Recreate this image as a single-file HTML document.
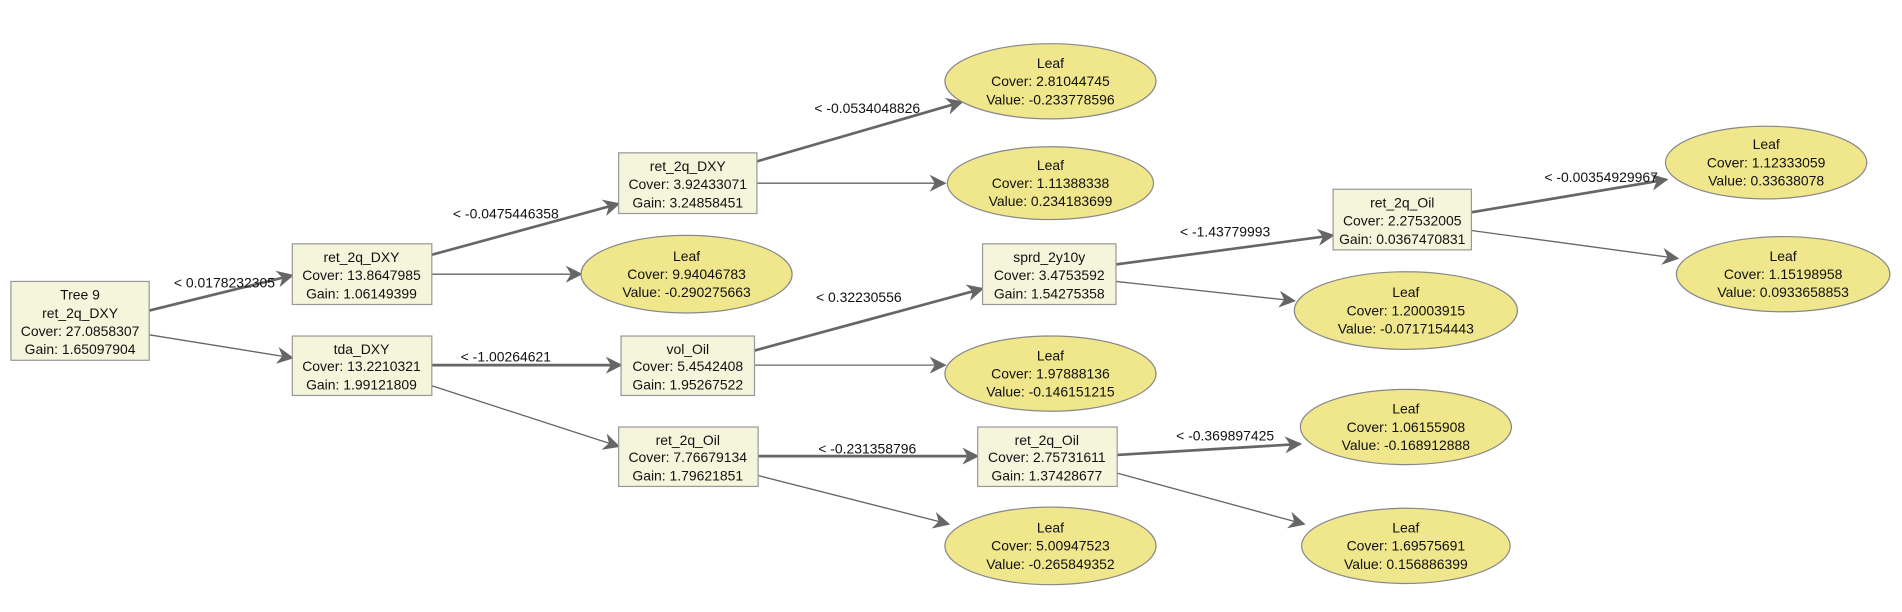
<!DOCTYPE html>
<html><head><meta charset="utf-8"><style>
html,body{margin:0;padding:0;background:#fff;}
svg{display:block;}
text{font-family:"Liberation Sans",Arial,sans-serif;font-size:11.5px;fill:#111;text-anchor:middle;}
.r{fill:#f5f5dc;stroke:#999;stroke-width:1;}
.e{fill:#f0e68c;stroke:#888;stroke-width:1;}
.t{stroke:#666;stroke-width:2.2;fill:none;}
.n{stroke:#666;stroke-width:1.1;fill:none;}
</style></head><body>
<svg width="1902" height="612" viewBox="0 0 1568 504.5" xmlns="http://www.w3.org/2000/svg">
<defs>
<marker id="a" viewBox="0 0 10 10" refX="9" refY="5" markerWidth="7" markerHeight="7" markerUnits="userSpaceOnUse" orient="auto"><path d="M0,0 L10,5 L0,10 L3,5z" fill="#666"/></marker>
<marker id="b" viewBox="0 0 10 10" refX="9" refY="5" markerWidth="14" markerHeight="14" markerUnits="userSpaceOnUse" orient="auto"><path d="M0,0 L10,5 L0,10 L3,5z" fill="#666"/></marker>
</defs>
<!-- edges -->
<line class="t" x1="123" y1="256" x2="241" y2="227" marker-end="url(#b)"/>
<line class="n" x1="123" y1="276" x2="241" y2="295" marker-end="url(#b)"/>
<line class="t" x1="356" y1="210" x2="510" y2="168" marker-end="url(#b)"/>
<line class="n" x1="356" y1="226" x2="479" y2="226" marker-end="url(#b)"/>
<line class="t" x1="624" y1="133" x2="793" y2="84" marker-end="url(#b)"/>
<line class="n" x1="624" y1="151" x2="779" y2="151" marker-end="url(#b)"/>
<line class="t" x1="356" y1="301" x2="512" y2="301" marker-end="url(#b)"/>
<line class="n" x1="356" y1="318" x2="510" y2="368" marker-end="url(#b)"/>
<line class="t" x1="622" y1="289" x2="810" y2="238" marker-end="url(#b)"/>
<line class="n" x1="622" y1="301" x2="779" y2="301" marker-end="url(#b)"/>
<line class="t" x1="920" y1="218" x2="1099" y2="194" marker-end="url(#b)"/>
<line class="n" x1="920" y1="232" x2="1067" y2="248" marker-end="url(#b)"/>
<line class="t" x1="1213" y1="175" x2="1374" y2="148" marker-end="url(#b)"/>
<line class="n" x1="1213" y1="190" x2="1383" y2="213" marker-end="url(#b)"/>
<line class="t" x1="625" y1="376" x2="806" y2="376" marker-end="url(#b)"/>
<line class="n" x1="625" y1="392" x2="782" y2="432" marker-end="url(#b)"/>
<line class="t" x1="921" y1="375" x2="1072" y2="366" marker-end="url(#b)"/>
<line class="n" x1="921" y1="390" x2="1075" y2="432" marker-end="url(#b)"/>
<!-- edge labels -->
<text x="185" y="237">&lt; 0.0178232305</text>
<text x="417" y="180">&lt; -0.0475446358</text>
<text x="715" y="93">&lt; -0.0534048826</text>
<text x="417" y="298">&lt; -1.00264621</text>
<text x="708" y="249">&lt; 0.32230556</text>
<text x="1010" y="195">&lt; -1.43779993</text>
<text x="1320" y="150">&lt; -0.00354929967</text>
<text x="715" y="374">&lt; -0.231358796</text>
<text x="1010" y="363">&lt; -0.369897425</text>
<!-- boxes -->
<rect class="r" x="9" y="232" width="114" height="65"/>
<text x="66" y="247">Tree 9</text><text x="66" y="262">ret_2q_DXY</text><text x="66" y="277">Cover: 27.0858307</text><text x="66" y="292">Gain: 1.65097904</text>
<rect class="r" x="241" y="201" width="115" height="50"/>
<text x="298" y="216">ret_2q_DXY</text><text x="298" y="231">Cover: 13.8647985</text><text x="298" y="246">Gain: 1.06149399</text>
<rect class="r" x="241" y="277" width="115" height="49"/>
<text x="298" y="292">tda_DXY</text><text x="298" y="306">Cover: 13.2210321</text><text x="298" y="321">Gain: 1.99121809</text>
<rect class="r" x="510" y="126" width="114" height="50"/>
<text x="567" y="141">ret_2q_DXY</text><text x="567" y="156">Cover: 3.92433071</text><text x="567" y="171">Gain: 3.24858451</text>
<rect class="r" x="810" y="201" width="110" height="50"/>
<text x="865" y="216">sprd_2y10y</text><text x="865" y="231">Cover: 3.4753592</text><text x="865" y="246">Gain: 1.54275358</text>
<rect class="r" x="512" y="277" width="110" height="49"/>
<text x="567" y="292">vol_Oil</text><text x="567" y="306">Cover: 5.4542408</text><text x="567" y="321">Gain: 1.95267522</text>
<rect class="r" x="510" y="352" width="115" height="49"/>
<text x="567" y="367">ret_2q_Oil</text><text x="567" y="381">Cover: 7.76679134</text><text x="567" y="396">Gain: 1.79621851</text>
<rect class="r" x="806" y="352" width="115" height="49"/>
<text x="863" y="367">ret_2q_Oil</text><text x="863" y="381">Cover: 2.75731611</text><text x="863" y="396">Gain: 1.37428677</text>
<rect class="r" x="1099" y="156" width="114" height="50"/>
<text x="1156" y="171">ret_2q_Oil</text><text x="1156" y="186">Cover: 2.27532005</text><text x="1156" y="201">Gain: 0.0367470831</text>
<!-- leaves -->
<ellipse class="e" cx="866" cy="67" rx="87" ry="31"/>
<text x="866" y="56">Leaf</text><text x="866" y="71">Cover: 2.81044745</text><text x="866" y="86">Value: -0.233778596</text>
<ellipse class="e" cx="866" cy="151" rx="85" ry="30"/>
<text x="866" y="140">Leaf</text><text x="866" y="155">Cover: 1.11388338</text><text x="866" y="170">Value: 0.234183699</text>
<ellipse class="e" cx="566" cy="226" rx="87" ry="32"/>
<text x="566" y="215">Leaf</text><text x="566" y="230">Cover: 9.94046783</text><text x="566" y="245">Value: -0.290275663</text>
<ellipse class="e" cx="866" cy="308" rx="87" ry="31"/>
<text x="866" y="297">Leaf</text><text x="866" y="312">Cover: 1.97888136</text><text x="866" y="327">Value: -0.146151215</text>
<ellipse class="e" cx="866" cy="450" rx="87" ry="32"/>
<text x="866" y="439">Leaf</text><text x="866" y="454">Cover: 5.00947523</text><text x="866" y="469">Value: -0.265849352</text>
<ellipse class="e" cx="1159" cy="352" rx="87" ry="31"/>
<text x="1159" y="341">Leaf</text><text x="1159" y="356">Cover: 1.06155908</text><text x="1159" y="371">Value: -0.168912888</text>
<ellipse class="e" cx="1159" cy="450" rx="86" ry="31"/>
<text x="1159" y="439">Leaf</text><text x="1159" y="454">Cover: 1.69575691</text><text x="1159" y="469">Value: 0.156886399</text>
<ellipse class="e" cx="1159" cy="256" rx="92" ry="32"/>
<text x="1159" y="245">Leaf</text><text x="1159" y="260">Cover: 1.20003915</text><text x="1159" y="275">Value: -0.0717154443</text>
<ellipse class="e" cx="1456" cy="134" rx="83" ry="30"/>
<text x="1456" y="123">Leaf</text><text x="1456" y="138">Cover: 1.12333059</text><text x="1456" y="153">Value: 0.33638078</text>
<ellipse class="e" cx="1470" cy="226" rx="88" ry="31"/>
<text x="1470" y="215">Leaf</text><text x="1470" y="230">Cover: 1.15198958</text><text x="1470" y="245">Value: 0.0933658853</text>
</svg>
</body></html>
